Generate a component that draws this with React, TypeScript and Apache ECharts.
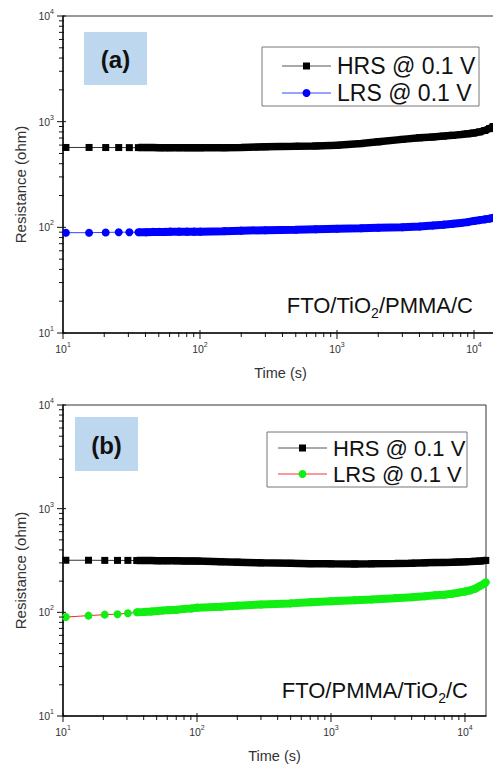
import React, { useEffect, useRef } from "react";
import * as echarts from "echarts";

// ---- Data ----
const seriesNames = ["HRS @ 0.1 V", "LRS @ 0.1 V"];
const panelLabels = ["(a)", "(b)"];
const deviceA = ["FTO/TiO", "2", "/PMMA/C"];
const deviceB = ["FTO/PMMA/TiO", "2", "/C"];
const xAxisTitle = "Time (s)";
const yAxisTitle = "Resistance (ohm)";

const timeA = [10.5, 15.5, 20.5, 25.5, 30.5, 35.5, 40.5, 45.5, 50.5, 55.5, 60.5, 70.5, 80.5, 90.5, 100.5, 150, 200, 300, 500, 700, 1000, 1500, 2000, 3000, 4000, 5000, 6000, 7000, 8000, 9000, 10000, 11000, 12000, 13000, 13800];
const hrsA = [570, 570, 569, 569, 568, 568, 568, 568, 567, 567, 567, 567, 566, 566, 566, 567, 570, 578, 585, 590, 598, 620, 645, 680, 703, 717, 730, 742, 755, 768, 782, 800, 825, 860, 900];
const lrsA = [89, 89, 89.5, 90, 90, 90, 90, 90.5, 90.5, 90.5, 91, 91, 91, 91, 91, 92, 93, 94, 95, 96, 97, 98, 99, 100, 102, 104, 106, 108, 110, 112, 115, 117, 119, 121, 123];

const timeB = [10.5, 15.5, 20.5, 25.5, 30.5, 35.5, 40.5, 45.5, 50.5, 55.5, 60.5, 70.5, 80.5, 90.5, 100.5, 150, 200, 300, 500, 700, 1000, 1500, 2000, 3000, 4000, 5000, 6000, 7000, 8000, 9000, 10000, 11000, 12000, 13000, 14000, 14300];
const hrsB = [318, 318, 317, 317, 317, 316, 316, 316, 315, 315, 315, 314, 313, 313, 312, 308, 305, 300, 297, 295, 294, 293, 294, 296, 298, 300, 302, 303, 304, 306, 307, 309, 311, 313, 316, 317];
const lrsB = [90, 93, 95, 96, 98, 100, 101, 102, 103, 104, 105, 106, 108, 109, 111, 113, 116, 119, 122, 125, 128, 131, 133, 137, 140, 143, 146, 148, 151, 155, 159, 163, 170, 180, 190, 195];

const decades = [10, 100, 1000, 10000];
const minorMultipliers = [2, 3, 4, 5, 6, 7, 8, 9];

const FONT = "Liberation Sans, Arial, Helvetica, sans-serif";

function pairs(t: number[], v: number[]) {
  return t.map((x, i) => [x, v[i]]);
}

function tickData(xMax: number) {
  const out: number[][] = [];
  decades.forEach((d) => {
    if (d <= xMax) out.push([d, 10, 1]);
    out.push([10, d, 3]);
    if (d < 10000) {
      minorMultipliers.forEach((m) => {
        if (d * m <= xMax) out.push([d * m, 10, 0]);
        out.push([10, d * m, 2]);
      });
    }
  });
  return out;
}

const tickRender = (params: any, api: any) => {
  const p = api.coord([api.value(0), api.value(1)]);
  const k = api.value(2);
  let shape;
  if (k === 0) shape = { x1: p[0], y1: p[1] - 1, x2: p[0], y2: p[1] + 4 };
  else if (k === 1) shape = { x1: p[0], y1: p[1] - 3, x2: p[0], y2: p[1] + 6 };
  else if (k === 2) shape = { x1: p[0] + 1, y1: p[1], x2: p[0] - 4, y2: p[1] };
  else shape = { x1: p[0] + 3, y1: p[1], x2: p[0] - 6, y2: p[1] };
  return { type: "line", shape, style: { stroke: "#111", lineWidth: 1 } };
};

const labelFmt = (v: number) => `{b|10}{s|${Math.round(Math.log10(v))}}`;
const labelRich = {
  b: { fontSize: 10.5, color: "#333", fontFamily: FONT, lineHeight: 16 },
  s: { fontSize: 7, color: "#333", fontFamily: FONT, lineHeight: 16, verticalAlign: "top" },
};

function xAxisDef(gridIndex: number, max: number) {
  return {
    type: "log",
    logBase: 10,
    gridIndex,
    min: 10,
    max,
    name: xAxisTitle,
    nameLocation: "middle",
    nameGap: 32,
    nameTextStyle: { fontSize: 14.5, color: "#333", fontFamily: FONT },
    axisLine: { show: true, lineStyle: { color: "#111", width: 1.5 } },
    axisTick: { show: false },
    splitLine: { show: false },
    axisLabel: { formatter: labelFmt, rich: labelRich, margin: 8, showMaxLabel: false },
  };
}

function yAxisDef(gridIndex: number) {
  return {
    type: "log",
    logBase: 10,
    gridIndex,
    min: 10,
    max: 10000,
    name: yAxisTitle,
    nameLocation: "middle",
    nameGap: 30,
    nameTextStyle: { fontSize: 15, color: "#333", fontFamily: FONT, padding: [0, 20, 0, 0] },
    axisLine: { show: true, lineStyle: { color: "#111", width: 1.5 } },
    axisTick: { show: false },
    splitLine: { show: false },
    axisLabel: { formatter: labelFmt, rich: labelRich, margin: 9 },
  };
}

function dataSeries(idx: number, t: number[], hrs: number[], lrs: number[], lrsLine: string, lrsColor: string) {
  return [
    {
      type: "line",
      name: seriesNames[0],
      xAxisIndex: idx,
      yAxisIndex: idx,
      data: pairs(t, hrs),
      symbol: "rect",
      symbolSize: 7,
      itemStyle: { color: "#000" },
      lineStyle: { color: "#333", width: 1 },
      z: 3,
    },
    {
      type: "line",
      name: seriesNames[0],
      xAxisIndex: idx,
      yAxisIndex: idx,
      data: pairs(t.slice(5), hrs.slice(5)),
      showSymbol: false,
      symbol: "none",
      lineStyle: { color: "#000", width: 7.5 },
      z: 4,
      silent: true,
    },
    {
      type: "line",
      name: seriesNames[1],
      xAxisIndex: idx,
      yAxisIndex: idx,
      data: pairs(t, lrs),
      symbol: "circle",
      symbolSize: 8,
      itemStyle: { color: lrsColor },
      lineStyle: { color: lrsLine, width: 1 },
      z: 3,
    },
    {
      type: "line",
      name: seriesNames[1],
      xAxisIndex: idx,
      yAxisIndex: idx,
      data: pairs(t.slice(5), lrs.slice(5)),
      showSymbol: false,
      symbol: "none",
      lineStyle: { color: lrsColor, width: 8 },
      z: 4,
      silent: true,
    },
    {
      type: "custom",
      xAxisIndex: idx,
      yAxisIndex: idx,
      data: tickData(idx === 0 ? 14970 : 14350),
      renderItem: tickRender,
      clip: false,
      silent: true,
      z: 6,
    },
  ];
}

function legendGraphic(x: number, y: number, w: number, h: number, rows: number[], lineX0: number, lineX1: number, textX: number, fs: number, lrsLine: string, lrsColor: string, hrsLine: string) {
  const mx = (lineX0 + lineX1) / 2;
  return [
    { type: "rect", shape: { x, y, width: w, height: h }, style: { fill: "#fff", stroke: "#777", lineWidth: 1 }, z: 10 },
    { type: "line", shape: { x1: lineX0, y1: rows[0], x2: lineX1, y2: rows[0] }, style: { stroke: hrsLine, lineWidth: 1 }, z: 11 },
    { type: "rect", shape: { x: mx - 3.5, y: rows[0] - 3.5, width: 7, height: 7 }, style: { fill: "#000" }, z: 12 },
    { type: "text", x: textX, y: rows[0], style: { text: seriesNames[0], fontSize: fs, fontFamily: FONT, fill: "#111", verticalAlign: "middle", align: "left" }, z: 12 },
    { type: "line", shape: { x1: lineX0, y1: rows[1], x2: lineX1, y2: rows[1] }, style: { stroke: lrsLine, lineWidth: 1 }, z: 11 },
    { type: "circle", shape: { cx: mx, cy: rows[1], r: 4 }, style: { fill: lrsColor }, z: 12 },
    { type: "text", x: textX, y: rows[1], style: { text: seriesNames[1], fontSize: fs, fontFamily: FONT, fill: "#111", verticalAlign: "middle", align: "left" }, z: 12 },
  ];
}

function labelBox(x: number, y: number, w: number, h: number, text: string) {
  return [
    { type: "rect", shape: { x, y, width: w, height: h }, style: { fill: "#bdd7ee" }, z: 10 },
    { type: "text", x: x + w / 2, y: y + h / 2 + 1, style: { text, fontSize: 24, fontWeight: "bold", fontFamily: FONT, fill: "#111", align: "center", verticalAlign: "middle" }, z: 11 },
  ];
}

function deviceText(xRight: number, y: number, parts: string[]) {
  return {
    type: "text",
    x: xRight,
    y,
    z: 11,
    style: {
      text: `{a|${parts[0]}}{s|${parts[1]}}{a|${parts[2]}}`,
      align: "right",
      verticalAlign: "middle",
      rich: {
        a: { fontSize: 22, fontFamily: FONT, fill: "#111", color: "#111", lineHeight: 30, verticalAlign: "middle" },
        s: { fontSize: 14, fontFamily: FONT, fill: "#111", color: "#111", lineHeight: 30, verticalAlign: "bottom" },
      },
    },
  };
}

export default function App() {
  const ref = useRef<HTMLDivElement>(null);
  useEffect(() => {
    if (!ref.current) return;
    const chart = echarts.init(ref.current, null, { renderer: "svg" });
    chart.setOption({
      animation: false,
      backgroundColor: "#fff",
      textStyle: { fontFamily: FONT },
      grid: [
        { left: 63, top: 16, width: 435, height: 317, show: true, borderColor: "#333", borderWidth: 1, backgroundColor: "transparent", outerBoundsMode: "none", containLabel: false },
        { left: 63, top: 405, width: 423, height: 311, show: true, borderColor: "#333", borderWidth: 1, backgroundColor: "transparent", outerBoundsMode: "none", containLabel: false },
      ],
      xAxis: [xAxisDef(0, 14970), xAxisDef(1, 14350)],
      yAxis: [yAxisDef(0), yAxisDef(1)],
      series: [
        ...dataSeries(0, timeA, hrsA, lrsA, "#3344ff", "#0000ff"),
        ...dataSeries(1, timeB, hrsB, lrsB, "#ff2222", "#11ee11"),
      ],
      graphic: [
        ...labelBox(84, 32, 63, 53, panelLabels[0]),
        ...labelBox(75, 417, 63, 54, panelLabels[1]),
        ...legendGraphic(262, 47, 217, 59, [66, 93], 282, 331, 337, 23, "#3344ff", "#0000ff", "#555"),
        ...legendGraphic(267, 432, 200, 55, [448, 474], 278, 327, 333, 22, "#ff3333", "#11ee11", "#555"),
        deviceText(473, 305, deviceA),
        deviceText(468, 690, deviceB),
      ],
    });
    return () => chart.dispose();
  }, []);
  return <div ref={ref} style={{ width: 493, height: 766, position: "absolute", left: 0, top: 0 }} />;
}
